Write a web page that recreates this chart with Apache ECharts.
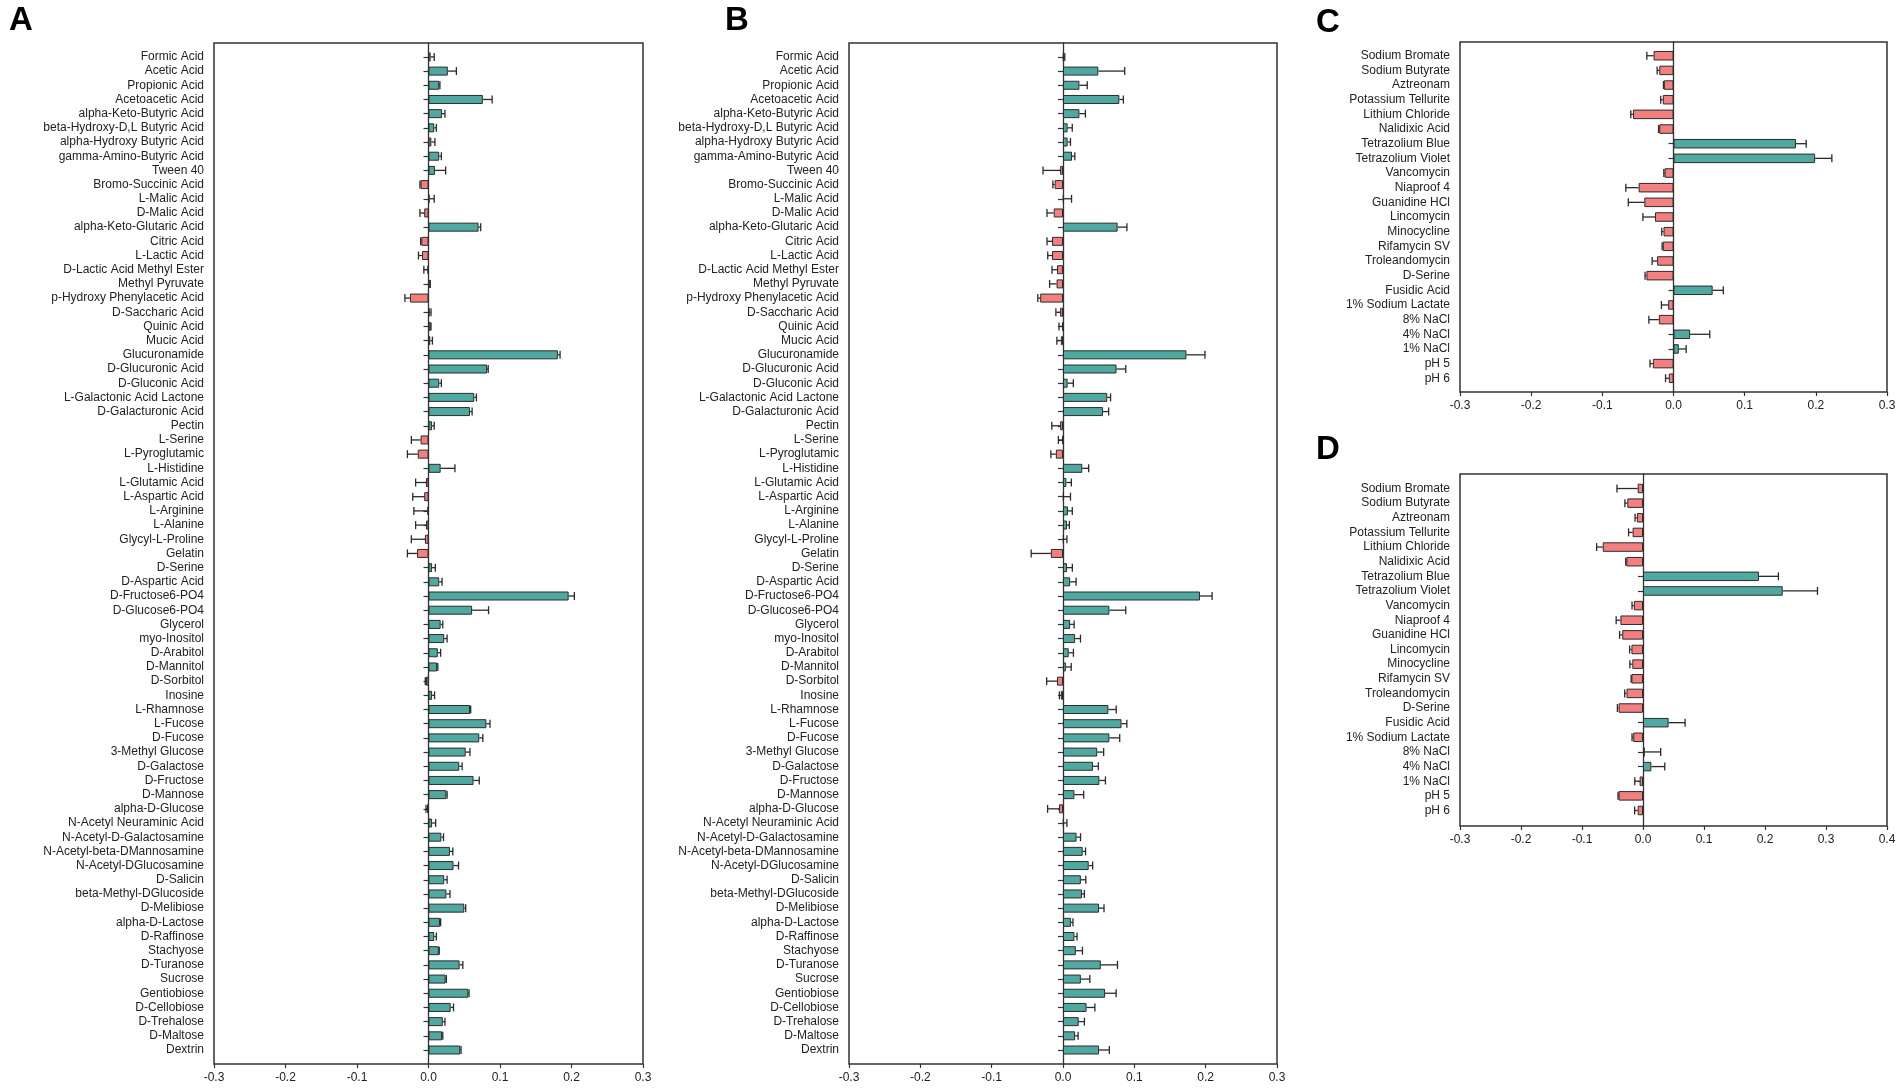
<!DOCTYPE html>
<html>
<head>
<meta charset="utf-8">
<title>Phenotype microarray bars</title>
<script src="https://cdn.jsdelivr.net/npm/echarts@6/dist/echarts.min.js"></script>
<style>
  html, body { margin: 0; padding: 0; background: #fff; }
  #chart { width: 1902px; height: 1091px; }
</style>
</head>
<body>
<div id="chart"></div>
<script>
// carbon sources (panels A, B)
const carbonSources = [
  'Formic Acid', 'Acetic Acid', 'Propionic Acid', 'Acetoacetic Acid', 'alpha-Keto-Butyric Acid',
  'beta-Hydroxy-D,L Butyric Acid', 'alpha-Hydroxy Butyric Acid', 'gamma-Amino-Butyric Acid', 'Tween 40',
  'Bromo-Succinic Acid', 'L-Malic Acid', 'D-Malic Acid', 'alpha-Keto-Glutaric Acid', 'Citric Acid',
  'L-Lactic Acid', 'D-Lactic Acid Methyl Ester', 'Methyl Pyruvate', 'p-Hydroxy Phenylacetic Acid',
  'D-Saccharic Acid', 'Quinic Acid', 'Mucic Acid', 'Glucuronamide', 'D-Glucuronic Acid', 'D-Gluconic Acid',
  'L-Galactonic Acid Lactone', 'D-Galacturonic Acid', 'Pectin', 'L-Serine', 'L-Pyroglutamic', 'L-Histidine',
  'L-Glutamic Acid', 'L-Aspartic Acid', 'L-Arginine', 'L-Alanine', 'Glycyl-L-Proline', 'Gelatin', 'D-Serine',
  'D-Aspartic Acid', 'D-Fructose6-PO4', 'D-Glucose6-PO4', 'Glycerol', 'myo-Inositol', 'D-Arabitol',
  'D-Mannitol', 'D-Sorbitol', 'Inosine', 'L-Rhamnose', 'L-Fucose', 'D-Fucose', '3-Methyl Glucose',
  'D-Galactose', 'D-Fructose', 'D-Mannose', 'alpha-D-Glucose', 'N-Acetyl Neuraminic Acid',
  'N-Acetyl-D-Galactosamine', 'N-Acetyl-beta-DMannosamine', 'N-Acetyl-DGlucosamine', 'D-Salicin',
  'beta-Methyl-DGlucoside', 'D-Melibiose', 'alpha-D-Lactose', 'D-Raffinose', 'Stachyose', 'D-Turanose',
  'Sucrose', 'Gentiobiose', 'D-Cellobiose', 'D-Trehalose', 'D-Maltose', 'Dextrin'
];

// chemical sensitivity (panels C, D)
const chemicals = [
  'Sodium Bromate', 'Sodium Butyrate', 'Aztreonam', 'Potassium Tellurite', 'Lithium Chloride',
  'Nalidixic Acid', 'Tetrazolium Blue', 'Tetrazolium Violet', 'Vancomycin', 'Niaproof 4',
  'Guanidine HCl', 'Lincomycin', 'Minocycline', 'Rifamycin SV', 'Troleandomycin', 'D-Serine',
  'Fusidic Acid', '1% Sodium Lactate', '8% NaCl', '4% NaCl', '1% NaCl', 'pH 5', 'pH 6'
];

const aMean = [
  0.003, 0.027, 0.015, 0.076, 0.019, 0.008, 0.004, 0.015, 0.009, -0.011,
  0.0015, -0.006, 0.070, -0.010, -0.009, -0.0015, 0.0015, -0.026, 0.0015, 0.003,
  0.0025, 0.181, 0.082, 0.015, 0.064, 0.058, 0.005, -0.011, -0.015, 0.017,
  -0.0035, -0.006, -0.0015, -0.0035, -0.005, -0.016, 0.005, 0.015, 0.196, 0.061,
  0.017, 0.022, 0.013, 0.012, -0.0035, 0.005, 0.058, 0.081, 0.071, 0.052,
  0.043, 0.063, 0.025, -0.002, 0.005, 0.018, 0.030, 0.035, 0.022, 0.025,
  0.050, 0.016, 0.008, 0.0145, 0.0435, 0.024, 0.0557, 0.031, 0.020, 0.019, 0.0445
];
const aErr = [
  0.005, 0.012, 0.001, 0.013, 0.004, 0.003, 0.005, 0.003, 0.015, 0.001,
  0.0065, 0.006, 0.003, 0.001, 0.005, 0.005, 0.001, 0.007, 0.002, 0.0005,
  0.003, 0.003, 0.0015, 0.003, 0.003, 0.003, 0.003, 0.013, 0.0145, 0.020,
  0.0145, 0.016, 0.019, 0.0145, 0.019, 0.0135, 0.0045, 0.004, 0.008, 0.023,
  0.003, 0.004, 0.004, 0.001, 0.001, 0.0035, 0.001, 0.005, 0.005, 0.006,
  0.004, 0.008, 0.001, 0.0015, 0.005, 0.003, 0.004, 0.007, 0.004, 0.005,
  0.002, 0.001, 0.003, 0.0005, 0.0045, 0.001, 0.001, 0.004, 0.003, 0.001, 0.001
];

const bMean = [
  0.001, 0.0495, 0.023, 0.079, 0.023, 0.0065, 0.0065, 0.0126, -0.004, -0.0117,
  0.001, -0.013, 0.0766, -0.0154, -0.0154, -0.0084, -0.009, -0.032, -0.004, -0.001,
  -0.003, 0.173, 0.075, 0.0065, 0.062, 0.056, -0.004, -0.001, -0.010, 0.027,
  0.0047, 0.001, 0.007, 0.0056, 0.001, -0.017, 0.0056, 0.010, 0.192, 0.065,
  0.010, 0.017, 0.008, 0.004, -0.0084, -0.003, 0.0636, 0.082, 0.065, 0.048,
  0.042, 0.051, 0.016, -0.0056, 0.001, 0.019, 0.0276, 0.036, 0.025, 0.0266,
  0.0505, 0.011, 0.016, 0.018, 0.053, 0.025, 0.059, 0.033, 0.022, 0.017, 0.0505
];
const bErr = [
  0.0015, 0.037, 0.011, 0.0056, 0.0084, 0.0065, 0.004, 0.004, 0.024, 0.0025,
  0.011, 0.0095, 0.013, 0.007, 0.006, 0.007, 0.0098, 0.0033, 0.006, 0.0046,
  0.0056, 0.026, 0.013, 0.008, 0.0047, 0.008, 0.0117, 0.0055, 0.007, 0.009,
  0.007, 0.0095, 0.006, 0.0033, 0.0045, 0.0276, 0.0075, 0.0084, 0.017, 0.023,
  0.0056, 0.0075, 0.0066, 0.0075, 0.0145, 0.002, 0.011, 0.0075, 0.0145, 0.009,
  0.0075, 0.0085, 0.013, 0.016, 0.0045, 0.0056, 0.004, 0.0056, 0.007, 0.0033,
  0.007, 0.003, 0.0037, 0.0093, 0.0234, 0.0126, 0.0155, 0.0117, 0.008, 0.0042, 0.0145
];

const cMean = [
  -0.028, -0.020, -0.0136, -0.015, -0.057, -0.020, 0.172, 0.199, -0.0126, -0.049, -0.041, -0.026,
  -0.014, -0.015, -0.023, -0.038, 0.055, -0.0075, -0.0206, 0.0234, 0.0075, -0.029, -0.0066
];
const cErr = [
  0.0095, 0.003, 0.0005, 0.003, 0.003, 0.001, 0.0145, 0.0235, 0.001, 0.018, 0.0225, 0.017,
  0.0025, 0.001, 0.007, 0.002, 0.015, 0.0095, 0.014, 0.0276, 0.0103, 0.004, 0.0046
];

const dMean = [
  -0.0087, -0.0257, -0.010, -0.017, -0.066, -0.0273, 0.190, 0.229, -0.015, -0.037, -0.034, -0.019,
  -0.0175, -0.019, -0.027, -0.040, 0.042, -0.016, 0.003, 0.0137, -0.0055, -0.040, -0.0087
];
const dErr = [
  0.034, 0.004, 0.003, 0.0066, 0.010, 0.001, 0.032, 0.057, 0.003, 0.007, 0.0044, 0.003,
  0.004, 0.0005, 0.003, 0.002, 0.027, 0.002, 0.026, 0.022, 0.008, 0.001, 0.005
];

const ticksABC = [-0.3, -0.2, -0.1, 0.0, 0.1, 0.2, 0.3];
const ticksD = [-0.3, -0.2, -0.1, 0.0, 0.1, 0.2, 0.3, 0.4];

const TEAL = '#4fa9a1';
const RED = '#f47f7f';
const INK = '#2b2b2b';
const FONT = "'Liberation Sans', Arial, sans-serif";

// frame box [left, top, right, bottom] and category padding inside it
const panels = [
  { letter: 'A', names: carbonSources, mean: aMean, err: aErr, ticks: ticksABC,
    box: [214, 43, 643, 1064], padTop: 6.8, padBottom: 6.9, barWidth: 9, letterAt: [9, 4] },
  { letter: 'B', names: carbonSources, mean: bMean, err: bErr, ticks: ticksABC,
    box: [849, 43, 1277, 1064], padTop: 6.8, padBottom: 6.9, barWidth: 9, letterAt: [725, 4] },
  { letter: 'C', names: chemicals, mean: cMean, err: cErr, ticks: ticksABC,
    box: [1460, 42, 1887, 392], padTop: 6.4, padBottom: 6.4, barWidth: 9.5, letterAt: [1316, 6] },
  { letter: 'D', names: chemicals, mean: dMean, err: dErr, ticks: ticksD,
    box: [1460, 474, 1887, 826], padTop: 7.2, padBottom: 8.2, barWidth: 9.5, letterAt: [1316, 433] }
];

function renderErrorBar(params, api) {
  const v = api.value(0);
  const e = api.value(1);
  const idx = api.value(2);
  const end = v < 0 ? v - e : v + e;
  const p0 = api.coord([v, idx]);
  const p1 = api.coord([end, idx]);
  const cap = 4;
  const style = { stroke: INK, lineWidth: 1.3 };
  return {
    type: 'group',
    children: [
      { type: 'line', shape: { x1: p0[0], y1: p0[1], x2: p1[0], y2: p1[1] }, style: style },
      { type: 'line', shape: { x1: p1[0], y1: p1[1] - cap, x2: p1[0], y2: p1[1] + cap }, style: style }
    ]
  };
}

const option = {
  backgroundColor: '#fff',
  animation: false,
  title: [],
  grid: [],
  xAxis: [],
  yAxis: [],
  series: []
};

panels.forEach((p, k) => {
  const [l, t, r, b] = p.box;
  const main = 2 * k;
  const frame = 2 * k + 1;
  const xMin = p.ticks[0];
  const xMax = p.ticks[p.ticks.length - 1];

  option.title.push({
    text: p.letter, left: p.letterAt[0], top: p.letterAt[1], padding: 0,
    textStyle: { fontSize: 33, fontWeight: 'bold', color: '#000', fontFamily: FONT }
  });

  // plotting grid (category rows)
  option.grid.push({
    left: l, top: t + p.padTop, width: r - l, height: (b - p.padBottom) - (t + p.padTop),
    containLabel: false, outerBoundsMode: 'none'
  });
  // frame grid (box, zero line, x axis)
  option.grid.push({
    left: l, top: t, width: r - l, height: b - t,
    show: true, borderColor: '#333', borderWidth: 1.5, backgroundColor: 'transparent',
    containLabel: false, outerBoundsMode: 'none'
  });

  option.xAxis.push({
    gridIndex: main, type: 'value', min: xMin, max: xMax, interval: 0.1, show: false
  });
  option.xAxis.push({
    gridIndex: frame, type: 'value', min: xMin, max: xMax, interval: 0.1,
    axisLine: { show: false },
    axisTick: { show: true, inside: false, length: 4, lineStyle: { color: '#333', width: 1.2 } },
    axisLabel: {
      fontSize: 12, color: '#222', fontFamily: FONT, margin: 8,
      formatter: v => v.toFixed(1)
    },
    splitLine: { show: false }
  });

  option.yAxis.push({
    gridIndex: main, type: 'category', data: p.names, inverse: true,
    axisLine: { show: false },
    axisTick: { show: true, alignWithLabel: true, interval: 0, length: 5, lineStyle: { color: '#333', width: 1.2 } },
    axisLabel: { interval: 0, fontSize: 12, color: '#222', fontFamily: FONT, margin: 10 },
    splitLine: { show: false }
  });
  option.yAxis.push({
    gridIndex: frame, type: 'value', min: 0, max: 1,
    axisLine: { show: true, onZero: true, lineStyle: { color: '#333', width: 1.3 } },
    axisTick: { show: false }, axisLabel: { show: false }, splitLine: { show: false }
  });

  option.series.push({
    type: 'bar',
    xAxisIndex: main, yAxisIndex: main,
    barWidth: p.barWidth,
    data: p.mean.map(v => ({ value: v, itemStyle: { color: v < 0 ? RED : TEAL } })),
    itemStyle: { borderColor: INK, borderWidth: 1 },
    z: 3
  });
  option.series.push({
    type: 'custom',
    xAxisIndex: main, yAxisIndex: main,
    renderItem: renderErrorBar,
    encode: { x: 0, y: 2 },
    data: p.mean.map((v, i) => [v, p.err[i], i]),
    z: 4
  });
});

const chart = echarts.init(document.getElementById('chart'));
chart.setOption(option);
</script>
</body>
</html>
